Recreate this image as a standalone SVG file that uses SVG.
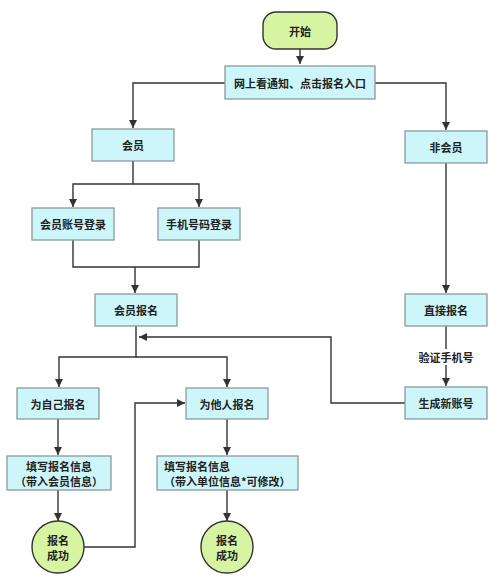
<svg xmlns="http://www.w3.org/2000/svg" width="500" height="585" viewBox="0 0 500 585">
<style>
.box{fill:#cdf6fa;stroke:#8a9a9c;stroke-width:1.3}
.term{fill:#d6f4a2;stroke:#333;stroke-width:1.4}
.t{font-family:"Noto Sans CJK SC","Noto Sans",sans-serif;font-size:11px;font-weight:bold;fill:#222;text-anchor:middle;dominant-baseline:central}
.tl{font-family:"Noto Sans CJK SC","Noto Sans",sans-serif;font-size:11px;font-weight:bold;fill:#222}
.c{fill:none;stroke:#333;stroke-width:1.4}
</style>
<defs>
<marker id="ah" viewBox="0 0 10 10" refX="10" refY="5" markerWidth="8" markerHeight="8" markerUnits="userSpaceOnUse" orient="auto">
<path d="M0,0 L10,5 L0,10 z" fill="#333"/>
</marker>
</defs>
<rect width="500" height="585" fill="#ffffff"/>
<g id="connectors">
<path class="c" d="M300,49 V64" marker-end="url(#ah)"/>
<path class="c" d="M225,83 H133 V128" marker-end="url(#ah)"/>
<path class="c" d="M375,83 H446 V130" marker-end="url(#ah)"/>
<path class="c" d="M133,161 V184 H73 V207" marker-end="url(#ah)"/>
<path class="c" d="M133,184 H199 V207" marker-end="url(#ah)"/>
<path class="c" d="M73,240 V267 H199 V240"/>
<path class="c" d="M135,267 V293" marker-end="url(#ah)"/>
<path class="c" d="M136,326 V357 H59 V387" marker-end="url(#ah)"/>
<path class="c" d="M136,357 H227 V387" marker-end="url(#ah)"/>
<path class="c" d="M446,163 V293" marker-end="url(#ah)"/>
<path class="c" d="M446,326 V349"/>
<path class="c" d="M446,365 V386" marker-end="url(#ah)"/>
<path class="c" d="M405,403 H331 V337 H139" marker-end="url(#ah)"/>
<path class="c" d="M58,419 V455" marker-end="url(#ah)"/>
<path class="c" d="M227,419 V455" marker-end="url(#ah)"/>
<path class="c" d="M58,490 V521" marker-end="url(#ah)"/>
<path class="c" d="M227,490 V521" marker-end="url(#ah)"/>
<path class="c" d="M84,547 H135 V403 H185" marker-end="url(#ah)"/>
<text class="t" x="446" y="357">验证手机号</text>
</g>
<g id="start"><rect class="term" x="263" y="12" width="74" height="37" rx="13"/><text class="t" x="300" y="31">开始</text></g>
<g id="notice"><rect class="box" x="225" y="66" width="150" height="33"/><text class="t" x="300" y="83">网上看通知、点击报名入口</text></g>
<g id="member"><rect class="box" x="92" y="129" width="82" height="32"/><text class="t" x="133" y="145">会员</text></g>
<g id="nonmember"><rect class="box" x="405" y="131" width="82" height="32"/><text class="t" x="446" y="147">非会员</text></g>
<g id="acctlogin"><rect class="box" x="32" y="208" width="82" height="32"/><text class="t" x="73" y="224">会员账号登录</text></g>
<g id="phonelogin"><rect class="box" x="158" y="208" width="82" height="32"/><text class="t" x="199" y="224">手机号码登录</text></g>
<g id="memberreg"><rect class="box" x="95" y="294" width="82" height="32"/><text class="t" x="136" y="310">会员报名</text></g>
<g id="directreg"><rect class="box" x="405" y="294" width="82" height="32"/><text class="t" x="446" y="310">直接报名</text></g>
<g id="newacct"><rect class="box" x="405" y="387" width="82" height="32"/><text class="t" x="446" y="403">生成新账号</text></g>
<g id="self"><rect class="box" x="17" y="388" width="82" height="31"/><text class="t" x="58" y="403.5">为自己报名</text></g>
<g id="other"><rect class="box" x="186" y="388" width="82" height="31"/><text class="t" x="227" y="403.5">为他人报名</text></g>
<g id="fillself"><rect class="box" x="7" y="456" width="104" height="34"/><text class="t" x="59" y="466">填写报名信息</text><text class="t" x="59" y="481">（带入会员信息）</text></g>
<g id="fillother"><rect class="box" x="157" y="456" width="141" height="34"/><text class="tl" x="164" y="466" dominant-baseline="central">填写报名信息</text><text class="tl" x="164" y="481" dominant-baseline="central">（带入单位信息*可修改）</text></g>
<g id="done1"><circle class="term" cx="58" cy="547" r="26"/><text class="t" x="58" y="540">报名</text><text class="t" x="58" y="555">成功</text></g>
<g id="done2"><circle class="term" cx="227" cy="547" r="26"/><text class="t" x="227" y="540">报名</text><text class="t" x="227" y="555">成功</text></g>
</svg>
